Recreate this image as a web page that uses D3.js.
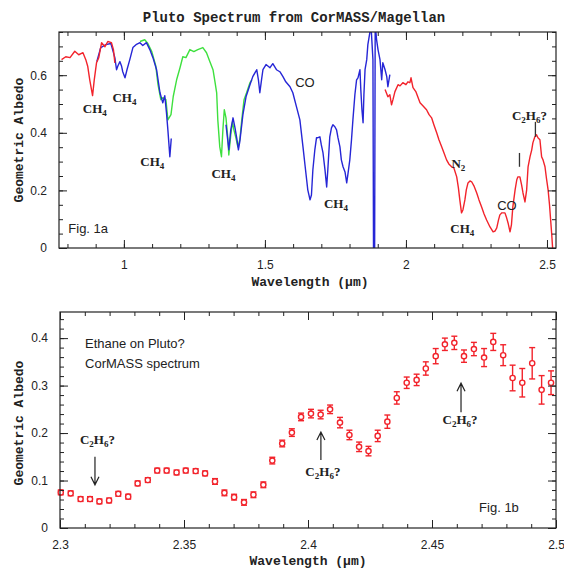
<!DOCTYPE html>
<html>
<head>
<meta charset="utf-8">
<script src="https://cdn.jsdelivr.net/npm/d3@7"></script>
<style>
  body { margin: 0; background: #fff; }
  svg { display: block; }
</style>
</head>
<body>
<div id="chart"></div>
<script>
// ------------------------------------------------------------
// Data
// Fig. 1a: full spectrum, three overlapping segments [wavelength um, albedo]
// ------------------------------------------------------------
const redShort = [[0.779,0.654],[0.794,0.664],[0.809,0.661],[0.826,0.683],[0.840,0.671],[0.855,0.678],[0.865,0.654],[0.872,0.630],[0.879,0.584],[0.889,0.529],[0.895,0.584],[0.903,0.643],[0.911,0.661],[0.921,0.713],[0.933,0.699],[0.943,0.717],[0.956,0.713],[0.963,0.689],[0.968,0.643]];

const blueShort = [[0.904,0.647],[0.918,0.696],[0.936,0.706],[0.954,0.710],[0.968,0.661],[0.974,0.619],[0.979,0.633],[0.986,0.647],[0.992,0.631],[0.996,0.612],[1.004,0.591],[1.011,0.619],[1.021,0.654],[1.032,0.696],[1.043,0.706],[1.057,0.713],[1.067,0.703],[1.080,0.713],[1.092,0.689],[1.103,0.661],[1.116,0.619],[1.128,0.539],[1.138,0.504],[1.145,0.529],[1.151,0.470],[1.156,0.410],[1.163,0.317],[1.168,0.380]];

const greenMid = [[1.057,0.717],[1.074,0.723],[1.085,0.710],[1.099,0.682],[1.113,0.633],[1.121,0.567],[1.131,0.515],[1.138,0.522],[1.149,0.515],[1.156,0.445],[1.167,0.463],[1.175,0.526],[1.187,0.584],[1.199,0.626],[1.209,0.664],[1.220,0.661],[1.234,0.689],[1.248,0.682],[1.262,0.689],[1.280,0.696],[1.293,0.678],[1.305,0.647],[1.316,0.619],[1.323,0.577],[1.329,0.539],[1.333,0.445],[1.340,0.351],[1.346,0.317],[1.351,0.410],[1.356,0.480],[1.362,0.452],[1.369,0.376],[1.372,0.323],[1.379,0.393],[1.385,0.438],[1.390,0.410],[1.397,0.383],[1.404,0.351],[1.411,0.376],[1.418,0.445],[1.426,0.515],[1.435,0.539],[1.447,0.574],[1.454,0.584]];

const blueLong = [[1.362,0.428],[1.372,0.341],[1.379,0.410],[1.387,0.452],[1.394,0.417],[1.401,0.376],[1.406,0.341],[1.411,0.369],[1.422,0.463],[1.433,0.525],[1.447,0.567],[1.457,0.595],[1.471,0.619],[1.477,0.584],[1.482,0.539],[1.488,0.584],[1.493,0.619],[1.504,0.637],[1.518,0.626],[1.528,0.640],[1.541,0.619],[1.553,0.612],[1.564,0.595],[1.574,0.577],[1.589,0.560],[1.599,0.539],[1.612,0.490],[1.624,0.445],[1.635,0.351],[1.642,0.289],[1.648,0.237],[1.652,0.202],[1.660,0.167],[1.665,0.184],[1.670,0.271],[1.677,0.341],[1.683,0.383],[1.688,0.383],[1.695,0.386],[1.700,0.358],[1.706,0.330],[1.713,0.271],[1.719,0.212],[1.723,0.271],[1.730,0.386],[1.736,0.417],[1.741,0.428],[1.748,0.421],[1.754,0.410],[1.759,0.383],[1.766,0.351],[1.771,0.306],[1.777,0.282],[1.784,0.264],[1.790,0.226],[1.794,0.254],[1.801,0.306],[1.807,0.376],[1.812,0.445],[1.819,0.532],[1.825,0.584],[1.830,0.591],[1.837,0.619],[1.840,0.550],[1.844,0.480],[1.848,0.435],[1.851,0.532],[1.855,0.619],[1.861,0.654],[1.865,0.706],[1.872,0.748],[1.876,0.776],[1.879,0.723],[1.883,0.654],[1.885,0.0],[1.887,0.0],[1.889,0.0],[1.891,0.776],[1.896,0.723],[1.901,0.689],[1.908,0.654],[1.914,0.584],[1.918,0.643],[1.926,0.619],[1.932,0.595],[1.936,0.560],[1.943,0.602]];

const redLong = [[1.926,0.550],[1.936,0.525],[1.943,0.532],[1.949,0.497],[1.954,0.515],[1.961,0.543],[1.972,0.567],[1.979,0.563],[1.989,0.574],[2.000,0.567],[2.007,0.577],[2.014,0.574],[2.018,0.591],[2.025,0.557],[2.035,0.543],[2.050,0.504],[2.060,0.494],[2.073,0.480],[2.082,0.463],[2.091,0.452],[2.099,0.428],[2.109,0.400],[2.117,0.376],[2.127,0.351],[2.135,0.330],[2.144,0.306],[2.152,0.292],[2.162,0.282],[2.170,0.278],[2.180,0.247],[2.186,0.209],[2.191,0.167],[2.197,0.122],[2.202,0.132],[2.209,0.167],[2.214,0.202],[2.220,0.226],[2.227,0.233],[2.233,0.230],[2.241,0.216],[2.251,0.191],[2.259,0.167],[2.268,0.143],[2.277,0.118],[2.286,0.097],[2.298,0.073],[2.309,0.056],[2.316,0.059],[2.322,0.070],[2.328,0.097],[2.333,0.115],[2.340,0.122],[2.351,0.122],[2.356,0.108],[2.362,0.087],[2.369,0.056],[2.374,0.080],[2.379,0.143],[2.387,0.202],[2.393,0.237],[2.397,0.247],[2.404,0.247],[2.410,0.219],[2.415,0.191],[2.422,0.160],[2.428,0.202],[2.433,0.282],[2.440,0.317],[2.446,0.341],[2.450,0.365],[2.457,0.386],[2.463,0.393],[2.468,0.383],[2.475,0.376],[2.481,0.317],[2.486,0.306],[2.493,0.282],[2.498,0.243],[2.504,0.202],[2.509,0.150],[2.513,0.097],[2.517,0.045],[2.520,0.0]];

// Fig. 1b: binned CorMASS points with error bars
const binWave = [2.3003,2.3043,2.3083,2.3121,2.3159,2.3198,2.3235,2.3275,2.3313,2.3354,2.3392,2.3430,2.3470,2.3507,2.3547,2.3585,2.3625,2.3663,2.3702,2.3742,2.3780,2.3820,2.3856,2.3896,2.3935,2.3972,2.4012,2.4051,2.4089,2.4129,2.4167,2.4206,2.4244,2.4281,2.4320,2.4358,2.4398,2.4438,2.4475,2.4515,2.4552,2.4590,2.4629,2.4669,2.4710,2.4747,2.4787,2.4825,2.4864,2.4904,2.4942,2.4980];
const binAlbedo = [0.075,0.073,0.061,0.061,0.056,0.058,0.072,0.066,0.094,0.101,0.121,0.121,0.117,0.121,0.120,0.115,0.098,0.074,0.065,0.054,0.070,0.091,0.142,0.178,0.201,0.234,0.241,0.239,0.250,0.222,0.196,0.171,0.162,0.194,0.224,0.274,0.306,0.312,0.336,0.362,0.387,0.390,0.362,0.377,0.359,0.392,0.364,0.316,0.306,0.347,0.291,0.306];
const binError = [0.005,0.005,0.005,0.005,0.005,0.005,0.005,0.005,0.005,0.005,0.005,0.005,0.005,0.005,0.005,0.005,0.006,0.006,0.006,0.006,0.006,0.006,0.007,0.007,0.008,0.008,0.009,0.009,0.009,0.011,0.010,0.010,0.010,0.012,0.014,0.013,0.012,0.012,0.014,0.016,0.013,0.014,0.013,0.014,0.019,0.018,0.022,0.027,0.030,0.033,0.030,0.025];

// tick values
const topMajorX = [1, 1.5, 2, 2.5];
const topMajorY = [0, 0.2, 0.4, 0.6];
const botMajorX = [2.3, 2.35, 2.4, 2.45, 2.5];
const botMajorY = [0, 0.1, 0.2, 0.3, 0.4];

// ------------------------------------------------------------
// Setup
// ------------------------------------------------------------
const width = 564, height = 569;
const RED = "#f2232b", GREEN = "#3ee03e", BLUE = "#2626d6";
const SANS = "Liberation Sans, Arial, sans-serif";
const MONO = "Liberation Mono, Courier New, monospace";
const SERIF = "Liberation Serif, Times New Roman, serif";

const svg = d3.select("#chart").append("svg")
    .attr("width", width)
    .attr("height", height);

// Draw a framed panel with inward ticks on all four sides
function drawFrame(x, y, majX, minX, majY, minY, fmtX, fmtY) {
    const g = svg.append("g");
    const [x0, x1] = x.range(), [y0, y1] = y.range();   // y0 bottom, y1 top

    const ax = (gen, tr) => {
        const a = g.append("g").attr("transform", tr).call(gen);
        a.select(".domain").remove();
        a.selectAll("line").attr("stroke", "#222");
        a.selectAll("text").style("font-family", SANS).style("font-size", "12px").attr("fill", "#222");
        return a;
    };
    // bottom
    ax(d3.axisBottom(x).tickValues(minX).tickSize(-4).tickFormat(""), `translate(0,${y0})`);
    ax(d3.axisBottom(x).tickValues(majX).tickSize(-8).tickPadding(12).tickFormat(fmtX), `translate(0,${y0})`);
    // top
    ax(d3.axisTop(x).tickValues(minX).tickSize(-4).tickFormat(""), `translate(0,${y1})`);
    ax(d3.axisTop(x).tickValues(majX).tickSize(-8).tickFormat(""), `translate(0,${y1})`);
    // left
    ax(d3.axisLeft(y).tickValues(minY).tickSize(-4).tickFormat(""), `translate(${x0},0)`);
    ax(d3.axisLeft(y).tickValues(majY).tickSize(-8).tickPadding(12).tickFormat(fmtY), `translate(${x0},0)`);
    // right
    ax(d3.axisRight(y).tickValues(minY).tickSize(-4).tickFormat(""), `translate(${x1},0)`);
    ax(d3.axisRight(y).tickValues(majY).tickSize(-8).tickFormat(""), `translate(${x1},0)`);

    g.append("rect")
        .attr("x", x0).attr("y", y1)
        .attr("width", x1 - x0).attr("height", y0 - y1)
        .attr("fill", "none")
        .attr("stroke", "#222")
        .attr("stroke-width", 1.2);
    return g;
}

// text with subscripts: parts like ["C", "_2", "H", "_6", "?"]
function chemText(g, px, py, parts, opts = {}) {
    const t = g.append("text")
        .attr("x", px).attr("y", py)
        .attr("text-anchor", opts.anchor || "middle")
        .style("font-family", opts.family || SERIF)
        .style("font-size", (opts.size || 13) + "px")
        .style("font-weight", opts.weight || "bold")
        .attr("fill", "#222");
    let down = false;
    parts.forEach(p => {
        if (p.startsWith("_")) {
            t.append("tspan").attr("dy", down ? 0 : 3).style("font-size", "9px").text(p.slice(1));
            down = true;
        } else {
            t.append("tspan").attr("dy", down ? -3 : 0).text(p);
            down = false;
        }
    });
    return t;
}

function plainText(g, px, py, str, size, anchor) {
    return g.append("text")
        .attr("x", px).attr("y", py)
        .attr("text-anchor", anchor || "start")
        .style("font-family", SANS)
        .style("font-size", size + "px")
        .attr("fill", "#222")
        .text(str);
}

function axisTitles(cx, baseY, yCenter) {
    svg.append("text")
        .attr("x", cx).attr("y", baseY)
        .attr("text-anchor", "middle")
        .style("font-family", MONO).style("font-size", "13px").style("font-weight", "bold")
        .attr("fill", "#222")
        .text("Wavelength (\u03bcm)");
    svg.append("text")
        .attr("transform", `translate(23,${yCenter}) rotate(-90)`)
        .attr("text-anchor", "middle")
        .style("font-family", MONO).style("font-size", "13px").style("font-weight", "bold")
        .attr("fill", "#222")
        .text("Geometric Albedo");
}

const fmt = d3.format("~g");

// ------------------------------------------------------------
// Fig. 1a
// ------------------------------------------------------------
const xA = d3.scaleLinear().domain([0.77, 2.532]).range([59, 556]);
const yA = d3.scaleLinear().domain([0, 0.75]).range([248, 32]);

svg.append("text")
    .attr("x", 294).attr("y", 22)
    .attr("text-anchor", "middle")
    .style("font-family", MONO).style("font-size", "14px").style("font-weight", "bold")
    .attr("fill", "#222")
    .text("Pluto Spectrum from CorMASS/Magellan");

svg.append("clipPath").attr("id", "clipA")
    .append("rect").attr("x", 59).attr("y", 32).attr("width", 497).attr("height", 216);

const lineA = d3.line().x(d => xA(d[0])).y(d => yA(d[1]));
const specG = svg.append("g").attr("clip-path", "url(#clipA)").attr("fill", "none");
[[greenMid, GREEN], [blueShort, BLUE], [blueLong, BLUE], [redShort, RED], [redLong, RED]]
    .forEach(([seg, col]) => {
        specG.append("path")
            .datum(seg)
            .attr("d", lineA)
            .attr("stroke", col)
            .attr("stroke-width", 1.4)
            .attr("stroke-linejoin", "round");
    });

const frameA = drawFrame(xA, yA, topMajorX, d3.range(8, 26).map(d => d / 10), topMajorY,
    d3.range(0, 16).map(d => d * 0.05), fmt, fmt);
axisTitles(310, 286, 140);

// annotations, in data coordinates
const annA = svg.append("g");
chemText(annA, xA(0.897), yA(0.470), ["CH", "_4"]);
chemText(annA, xA(1.002), yA(0.508), ["CH", "_4"]);
chemText(annA, xA(1.101), yA(0.285), ["CH", "_4"]);
chemText(annA, xA(1.353), yA(0.243), ["CH", "_4"]);
chemText(annA, xA(1.752), yA(0.139), ["CH", "_4"]);
chemText(annA, xA(2.200), yA(0.052), ["CH", "_4"]);
chemText(annA, xA(2.186), yA(0.278), ["N", "_2"]);
chemText(annA, xA(2.438), yA(0.445), ["C", "_2", "H", "_6", "?"]);
plainText(annA, xA(1.642), yA(0.560), "CO", 13, "middle");
plainText(annA, xA(2.358), yA(0.132), "CO", 13, "middle");
plainText(annA, xA(0.803), yA(0.052), "Fig. 1a", 13);
annA.append("line")
    .attr("x1", xA(2.4025)).attr("x2", xA(2.4025))
    .attr("y1", yA(0.330)).attr("y2", yA(0.282))
    .attr("stroke", "#333").attr("stroke-width", 1.3);
annA.append("line")
    .attr("x1", xA(2.459)).attr("x2", xA(2.459))
    .attr("y1", yA(0.438)).attr("y2", yA(0.386))
    .attr("stroke", "#333").attr("stroke-width", 1.3);

// ------------------------------------------------------------
// Fig. 1b
// ------------------------------------------------------------
const xB = d3.scaleLinear().domain([2.3, 2.5]).range([60, 556]);
const yB = d3.scaleLinear().domain([0, 0.455]).range([528, 312]);

const points = binWave.map((w, i) => ({ w, a: binAlbedo[i], e: binError[i] }));
const ptG = svg.append("g").attr("stroke", RED).attr("stroke-width", 1.4);
const pg = ptG.selectAll("g").data(points).enter().append("g");
pg.append("line")
    .attr("x1", d => xB(d.w)).attr("x2", d => xB(d.w))
    .attr("y1", d => yB(d.a - d.e)).attr("y2", d => yB(d.a + d.e));
pg.append("line")
    .attr("x1", d => xB(d.w) - 3).attr("x2", d => xB(d.w) + 3)
    .attr("y1", d => yB(d.a + d.e)).attr("y2", d => yB(d.a + d.e));
pg.append("line")
    .attr("x1", d => xB(d.w) - 3).attr("x2", d => xB(d.w) + 3)
    .attr("y1", d => yB(d.a - d.e)).attr("y2", d => yB(d.a - d.e));
pg.append("circle")
    .attr("cx", d => xB(d.w)).attr("cy", d => yB(d.a))
    .attr("r", 2.6)
    .attr("fill", "#fff");

drawFrame(xB, yB, botMajorX, d3.range(230, 251).map(d => d / 100), botMajorY,
    d3.range(0, 23).map(d => d * 0.02), fmt, fmt);
axisTitles(308, 565, 423);

const annB = svg.append("g");
plainText(annB, xB(2.3101), yB(0.379), "Ethane on Pluto?", 13);
plainText(annB, xB(2.3101), yB(0.337), "CorMASS spectrum", 13);
plainText(annB, xB(2.469), yB(0.034), "Fig. 1b", 13);
chemText(annB, xB(2.3151), yB(0.177), ["C", "_2", "H", "_6", "?"]);
chemText(annB, xB(2.406), yB(0.1095), ["C", "_2", "H", "_6", "?"]);
chemText(annB, xB(2.4613), yB(0.219), ["C", "_2", "H", "_6", "?"]);

// arrows: [x, tail albedo, tip albedo]
const arrows = [[2.3141, 0.150, 0.091], [2.4052, 0.143, 0.202], [2.4617, 0.244, 0.305]];
arrows.forEach(([w, a0, a1]) => {
    const px = xB(w), ty = yB(a1), dir = a1 > a0 ? 1 : -1;
    annB.append("path")
        .attr("d", `M${px},${yB(a0)}L${px},${ty}M${px - 4},${ty + dir * 8}L${px},${ty}L${px + 4},${ty + dir * 8}`)
        .attr("fill", "none")
        .attr("stroke", "#222")
        .attr("stroke-width", 1.2);
});
</script>
</body>
</html>
